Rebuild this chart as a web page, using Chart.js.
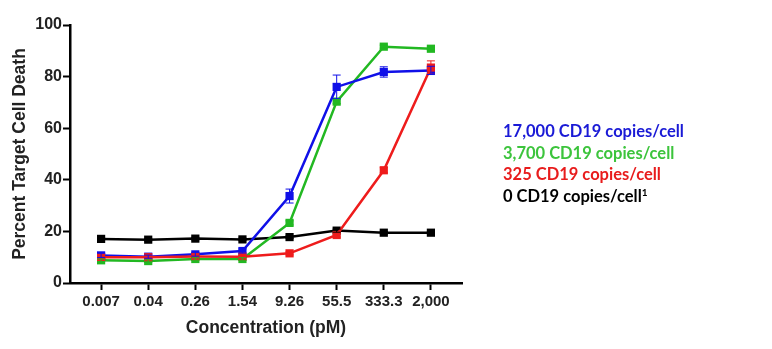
<!DOCTYPE html>
<html>
<head>
<meta charset="utf-8">
<script src="https://cdn.jsdelivr.net/npm/chart.js@4"></script>
<style>
  html, body { margin: 0; padding: 0; background: #fff; }
  #wrap { position: relative; width: 772px; height: 349px; }
  #legend { position: absolute; left: 503px; top: 121px; font-family: Lato, "Open Sans", sans-serif; font-weight: bold; font-size: 16.5px; line-height: 21.5px; }
  #legend sup { font-size: 10px; line-height: 0; vertical-align: 6px; }
</style>
</head>
<body>
<div id="wrap">
  <canvas id="chart" width="772" height="349"></canvas>
  <div id="legend"></div>
</div>
<script>
// concentrations (pM), plotted evenly spaced
const concentrations = ["0.007", "0.04", "0.26", "1.54", "9.26", "55.5", "333.3", "2,000"];

const seriesLabels = ["17,000 CD19 copies/cell", "3,700 CD19 copies/cell", "325 CD19 copies/cell", "0 CD19 copies/cell"];
const seriesColors = ["#1010e8", "#22b822", "#ee1c1c", "#000000"];
const legendColors = ["#1a1ad6", "#3cc43c", "#e81c1c", "#000000"];

const death17000 = [10.7, 10.2, 11.1, 12.4, 33.7, 76.0, 81.8, 82.4];
const death3700  = [8.8, 8.5, 9.3, 9.3, 23.3, 70.3, 91.6, 90.8];
const death325   = [10.0, 10.0, 10.3, 10.2, 11.5, 18.6, 43.7, 83.5];
const death0     = [17.1, 16.8, 17.2, 16.9, 17.8, 20.3, 19.5, 19.5];

const err17000 = [0.8, 0.6, 0.7, 0.8, 2.7, 4.6, 2.0, 1.6];
const err3700  = [0.5, 0.5, 0.5, 0.5, 0.8, 0.8, 0.6, 0.6];
const err325   = [0.4, 0.4, 0.4, 0.4, 0.6, 0.8, 1.0, 2.6];
const err0     = [0.5, 0.5, 0.5, 0.5, 0.5, 0.6, 0.5, 0.5];

function points(values) {
    return values.map((v, i) => ({ x: i, y: v }));
}

// draw order: red, blue, green, black on top
const order = [2, 0, 1, 3];
const allValues = [death17000, death3700, death325, death0];
const allErrors = [err17000, err3700, err325, err0];

const datasets = order.map((k) => ({
    label: seriesLabels[k],
    data: points(allValues[k]),
    errors: allErrors[k],
    borderColor: seriesColors[k],
    backgroundColor: seriesColors[k],
    borderWidth: 2.5,
    pointStyle: "rect",
    pointRadius: 5.8,
    pointHoverRadius: 5.8,
    pointBorderWidth: 0,
}));

const errorBars = {
    id: "errorBars",
    afterDatasetsDraw(chart) {
        const ctx = chart.ctx;
        const y = chart.scales.y;
        chart.data.datasets.forEach((ds, di) => {
            const meta = chart.getDatasetMeta(di);
            ctx.save();
            ctx.strokeStyle = ds.borderColor;
            ctx.lineWidth = 1;
            meta.data.forEach((pt, i) => {
                const e = ds.errors[i];
                const v = ds.data[i].y;
                const top = y.getPixelForValue(v + e);
                const bot = y.getPixelForValue(v - e);
                ctx.beginPath();
                ctx.moveTo(pt.x, top); ctx.lineTo(pt.x, bot);
                ctx.moveTo(pt.x - 4, top); ctx.lineTo(pt.x + 4, top);
                ctx.moveTo(pt.x - 4, bot); ctx.lineTo(pt.x + 4, bot);
                ctx.stroke();
            });
            ctx.restore();
        });
    }
};

const xTickFont = { family: "'Liberation Sans', Arial, sans-serif", size: 15, weight: "bold" };
const yTickFont = { family: "'Liberation Sans', Arial, sans-serif", size: 16, weight: "bold" };
const titleFont = { family: "'Liberation Sans', Arial, sans-serif", size: 17.5, weight: "bold" };

new Chart(document.getElementById("chart"), {
    type: "line",
    data: { datasets: datasets },
    options: {
        responsive: false,
        animation: false,
        layout: { padding: { top: 25, right: 310, left: 0, bottom: 0 } },
        plugins: { legend: { display: false }, tooltip: { enabled: false } },
        scales: {
            x: {
                type: "linear",
                min: -0.66,
                max: 7.66,
                afterBuildTicks: (axis) => {
                    axis.ticks = concentrations.map((_, i) => ({ value: i }));
                },
                afterFit: (axis) => { axis.height = 66; },
                ticks: {
                    font: xTickFont,
                    color: "#222",
                    padding: 3,
                    maxRotation: 0,
                    autoSkip: false,
                    callback: (v) => concentrations[v],
                },
                grid: { drawOnChartArea: false, tickLength: 7, tickWidth: 2, tickColor: "#000" },
                border: { color: "#000", width: 2.5 },
                title: { display: true, text: "Concentration (pM)", font: titleFont, color: "#222", padding: { top: 0, bottom: 10 } },
            },
            y: {
                min: 0,
                max: 100,
                afterFit: (axis) => { axis.width = 70; },
                ticks: { stepSize: 20, font: yTickFont, color: "#222", padding: 1 },
                grid: { drawOnChartArea: false, tickLength: 7, tickWidth: 2, tickColor: "#000" },
                border: { color: "#000", width: 2.5 },
                title: { display: true, text: "Percent Target Cell Death", font: titleFont, color: "#222", padding: { top: 10, bottom: 0 } },
            },
        },
    },
    plugins: [errorBars],
});

const legend = document.getElementById("legend");
seriesLabels.forEach((label, k) => {
    const div = document.createElement("div");
    div.style.color = legendColors[k];
    div.textContent = label;
    if (k === 3) {
        const sup = document.createElement("sup");
        sup.textContent = "1";
        div.appendChild(sup);
    }
    legend.appendChild(div);
});
</script>
</body>
</html>
